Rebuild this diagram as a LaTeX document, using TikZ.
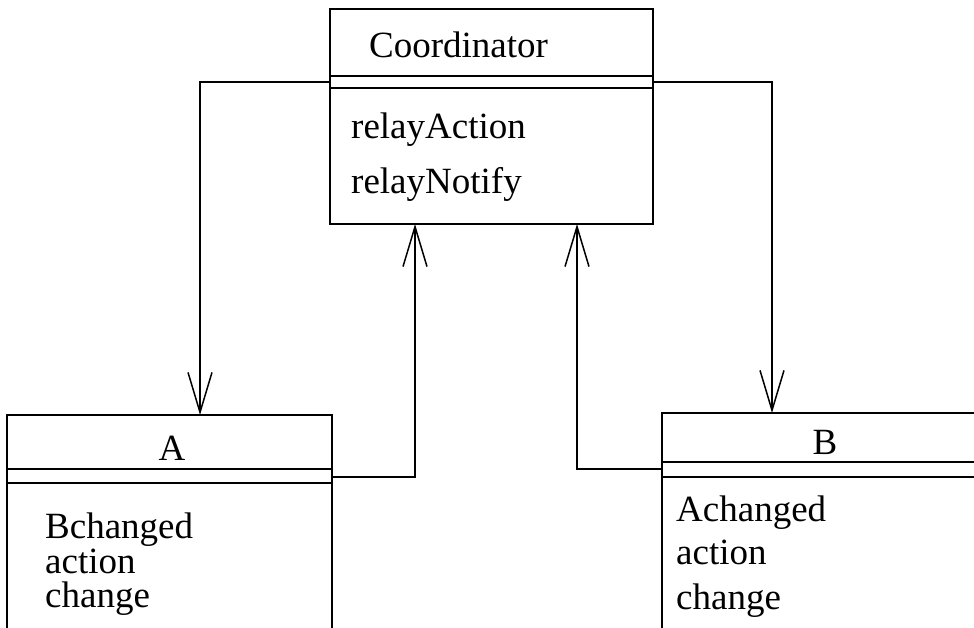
\documentclass[tikz,border=0pt]{standalone}
\usepackage{fontspec}
\setmainfont{Liberation Serif}
\usetikzlibrary{arrows.meta}

\begin{document}
\begin{tikzpicture}[x=1pt, y=-1pt,
  cls/.style={draw, line width=1.5pt, rectangle, inner sep=0pt, outer sep=0pt,
              anchor=north west},
  sep/.style={line width=1.5pt},
  txt/.style={inner sep=0pt, anchor=base west, font=\fontsize{37}{44}\selectfont},
  ttl/.style={inner sep=0pt, anchor=base, font=\fontsize{37}{44}\selectfont},
  arr/.style={-{Straight Barb[length=40pt, width=24pt]}, line width=1.5pt},
]
\useasboundingbox (0,0) rectangle (974,628);
\clip (0,0) rectangle (974,628);

% class boxes
\node[cls, minimum width=323pt, minimum height=215pt] (coord) at (330,9) {};
\node[cls, minimum width=325pt, minimum height=250pt] (clsA) at (7,415) {};
\node[cls, minimum width=350pt, minimum height=250pt] (clsB) at (662,413) {};

% compartment lines
\draw[sep] ([yshift=-67pt]coord.north west) -- ([yshift=-67pt]coord.north east);
\draw[sep] ([yshift=-79pt]coord.north west) -- ([yshift=-79pt]coord.north east);
\draw[sep] ([yshift=-54pt]clsA.north west) -- ([yshift=-54pt]clsA.north east);
\draw[sep] ([yshift=-68pt]clsA.north west) -- ([yshift=-68pt]clsA.north east);
\draw[sep] ([yshift=-49pt]clsB.north west) -- ([yshift=-49pt]clsB.north east);
\draw[sep] ([yshift=-64pt]clsB.north west) -- ([yshift=-64pt]clsB.north east);

% names and operations
\node[txt] (coordName) at (369,58) {Coordinator};
\node[txt] (relayAct) at (351,139) {relayAction};
\node[txt] (relayNot) at (351,194) {relayNotify};

\node[ttl] (nameA) at (172,460) {A};
\node[txt] (aOpOne) at (45,538) {Bchanged};
\node[txt] (aOpTwo) at (45,573) {action};
\node[txt] (aOpThree) at (45,607) {change};

\node[ttl] (nameB) at (825,454) {B};
\node[txt] (bOpOne) at (676,521) {Achanged};
\node[txt] (bOpTwo) at (676,564) {action};
\node[txt] (bOpThree) at (676,609) {change};

% connectors
\draw[arr] ([yshift=-73pt]coord.north west) -| ([xshift=193pt]clsA.north west);
\draw[arr] ([yshift=-73pt]coord.north east) -| ([xshift=110pt]clsB.north west);
\draw[arr] ([yshift=-62pt]clsA.north east) -| ([xshift=85pt]coord.south west);
\draw[arr] ([yshift=-56pt]clsB.north west) -| ([xshift=247pt]coord.south west);
\end{tikzpicture}
\end{document}
